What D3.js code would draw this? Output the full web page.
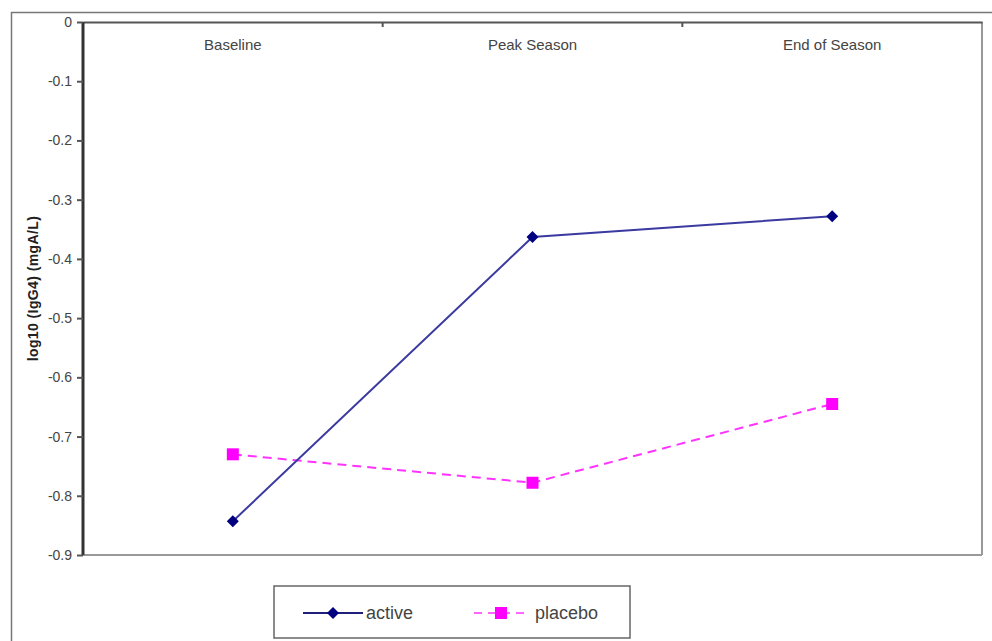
<!DOCTYPE html>
<html>
<head>
<meta charset="utf-8">
<script src="https://cdn.jsdelivr.net/npm/d3@7"></script>
<style>
  html, body { margin: 0; padding: 0; background: #fff; }
  svg { display: block; }
  text { font-family: "Liberation Sans", Arial, sans-serif; }
</style>
</head>
<body>
<svg id="chart" width="992" height="641"></svg>
<script>
const categories = ["Baseline", "Peak Season", "End of Season"];
const activeValues = [-0.843, -0.363, -0.328];
const placeboValues = [-0.730, -0.778, -0.645];
const yTicks = [0, -0.1, -0.2, -0.3, -0.4, -0.5, -0.6, -0.7, -0.8, -0.9];
const seriesNames = ["active", "placebo"];

const svg = d3.select("#chart");
const pLeft = 83, pRight = 982, pTop = 22, pBottom = 555;

// outer frame
svg.append("path")
  .attr("d", `M11.5,641 L11.5,12.5 L992,12.5`)
  .attr("fill", "none").attr("stroke", "#777").attr("stroke-width", 1.5);

const x = d3.scaleBand().domain(categories).range([pLeft, pRight]);
const y = d3.scaleLinear().domain([-0.9, 0]).range([pBottom, pTop]);

// plot frame: right & bottom gray
svg.append("line").attr("x1", pRight).attr("x2", pRight).attr("y1", pTop).attr("y2", pBottom)
  .attr("stroke", "#999").attr("stroke-width", 2);
svg.append("line").attr("x1", pLeft).attr("x2", pRight).attr("y1", pBottom).attr("y2", pBottom)
  .attr("stroke", "#999").attr("stroke-width", 2);

// top axis (category)
const xAxis = d3.axisBottom(x).tickSize(0).tickPadding(0);
const gx = svg.append("g").attr("transform", `translate(0,${pTop})`).call(xAxis);
gx.select(".domain").attr("stroke", "#555").attr("stroke-width", 2);
gx.selectAll(".tick text")
  .attr("dy", 0).attr("y", 28)
  .attr("fill", "#444").attr("font-size", 15);
// boundary ticks
svg.append("g").selectAll("line")
  .data(categories.slice(1))
  .join("line")
  .attr("x1", d => x(d)).attr("x2", d => x(d))
  .attr("y1", pTop).attr("y2", pTop + 5)
  .attr("stroke", "#555").attr("stroke-width", 2);

// left axis
const yAxis = d3.axisLeft(y).tickValues(yTicks).tickSize(6).tickPadding(5)
  .tickFormat(d => d === 0 ? "0" : d3.format(".1f")(d).replace("−", "-"));
const gy = svg.append("g").attr("transform", `translate(${pLeft},0)`).call(yAxis);
gy.select(".domain").attr("stroke", "#333").attr("stroke-width", 3).attr("d", `M0,${pTop}V${pBottom}`);
gy.selectAll(".tick line").attr("stroke", "#555").attr("stroke-width", 2);
gy.selectAll(".tick text").attr("fill", "#444").attr("font-size", 14);

// y label
svg.append("text")
  .attr("transform", `translate(38,${(pTop + pBottom) / 2}) rotate(-90)`)
  .attr("text-anchor", "middle")
  .attr("font-size", 14).attr("font-weight", "bold").attr("fill", "#222")
  .attr("letter-spacing", 0.4)
  .text("log10 (IgG4) (mgA/L)");

const cx = d => x(d) + x.bandwidth() / 2;

const line = d3.line().x(d => cx(d.c)).y(d => y(d.v));
const activeData = categories.map((c, i) => ({ c, v: activeValues[i] }));
const placeboData = categories.map((c, i) => ({ c, v: placeboValues[i] }));

svg.append("path").datum(placeboData).attr("d", line)
  .attr("fill", "none").attr("stroke", "#ff33ff").attr("stroke-width", 2)
  .attr("stroke-dasharray", "9,6");
svg.append("path").datum(activeData).attr("d", line)
  .attr("fill", "none").attr("stroke", "#3a3aa0").attr("stroke-width", 2);

const diamond = d3.symbol().type(d3.symbolSquare).size(72);
svg.append("g").selectAll("path").data(activeData).join("path")
  .attr("d", diamond)
  .attr("transform", d => `translate(${cx(d.c)},${y(d.v)}) rotate(45)`)
  .attr("fill", "#000080");
svg.append("g").selectAll("rect").data(placeboData).join("rect")
  .attr("x", d => cx(d.c) - 6).attr("y", d => y(d.v) - 6)
  .attr("width", 12).attr("height", 12)
  .attr("fill", "#ff00ff");

// legend
const lg = svg.append("g");
lg.append("rect").attr("x", 274).attr("y", 586).attr("width", 356).attr("height", 52)
  .attr("fill", "#fff").attr("stroke", "#666").attr("stroke-width", 1.5);
const ly = 613;
lg.append("line").attr("x1", 303).attr("x2", 363).attr("y1", ly).attr("y2", ly)
  .attr("stroke", "#20207a").attr("stroke-width", 2);
lg.append("path").attr("d", diamond).attr("transform", `translate(333,${ly}) rotate(45)`).attr("fill", "#000080");
lg.append("text").attr("x", 366).attr("y", ly + 6).attr("font-size", 18).attr("fill", "#444").text(seriesNames[0]);
lg.append("line").attr("x1", 474).attr("x2", 528).attr("y1", ly).attr("y2", ly)
  .attr("stroke", "#ff66ff").attr("stroke-width", 2).attr("stroke-dasharray", "8,6");
lg.append("rect").attr("x", 495).attr("y", ly - 6).attr("width", 12).attr("height", 12).attr("fill", "#ff00ff");
lg.append("text").attr("x", 535).attr("y", ly + 6).attr("font-size", 18).attr("fill", "#444").text(seriesNames[1]);
</script>
</body>
</html>
